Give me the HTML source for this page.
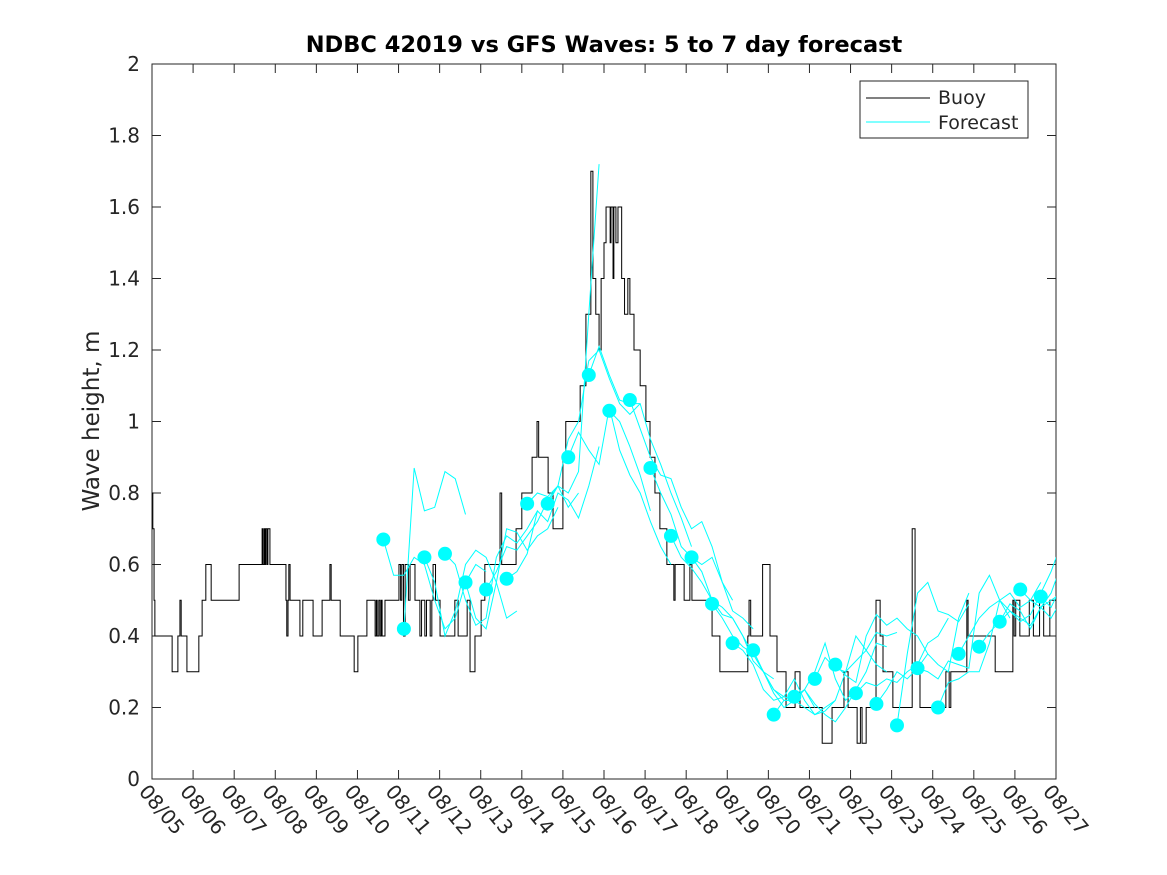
<!DOCTYPE html>
<html><head><meta charset="utf-8"><style>
body{margin:0;background:#fff}
svg{display:block;font-family:"DejaVu Sans","Liberation Sans",sans-serif}
</style></head><body>
<svg id="chart" width="1167" height="875" viewBox="0 0 1167 875">
<rect width="1167" height="875" fill="#fff"/>
<defs><clipPath id="pc"><rect x="152" y="64" width="904" height="715"/></clipPath></defs>
<rect x="152" y="64" width="904" height="715" fill="#fff" stroke="#262626" stroke-width="1"/>
<text x="604" y="52" text-anchor="middle" font-size="22.5" font-weight="bold" fill="#000">NDBC 42019 vs GFS Waves: 5 to 7 day forecast</text>
<text transform="translate(99,421) rotate(-90)" text-anchor="middle" font-size="23" fill="#262626">Wave height, m</text>
<g id="axes"></g>
<g id="series" clip-path="url(#pc)"></g>
<g>
<rect x="860" y="81" width="168" height="57" fill="#fff" stroke="#262626"/>
<line x1="866" y1="98" x2="930" y2="98" stroke="#000"/>
<text x="938" y="104" font-size="19" fill="#262626">Buoy</text>
<line x1="866" y1="122" x2="930" y2="122" stroke="#00ffff"/>
<text x="938" y="129" font-size="19" fill="#262626">Forecast</text>
</g>
</svg>
<script>
const dateLabels=["08/05","08/06","08/07","08/08","08/09","08/10","08/11","08/12","08/13","08/14","08/15","08/16","08/17","08/18","08/19","08/20","08/21","08/22","08/23","08/24","08/25","08/26","08/27"];
const yTicks=[0,0.2,0.4,0.6,0.8,1,1.2,1.4,1.6,1.8,2];
const yTickLabels=["0","0.2","0.4","0.6","0.8","1","1.2","1.4","1.6","1.8","2"];
// buoy step series: [day offset from 08/05, height]
const buoySteps=[[0,0.8],[0.02,0.7],[0.05,0.5],[0.07,0.4],[0.49,0.3],[0.63,0.4],[0.68,0.5],[0.71,0.4],[0.85,0.3],[1.14,0.4],[1.22,0.5],[1.31,0.6],[1.44,0.5],[2.12,0.6],[2.68,0.7],[2.70,0.6],[2.73,0.7],[2.75,0.6],[2.77,0.7],[2.80,0.6],[2.82,0.7],[2.87,0.6],[3.26,0.5],[3.28,0.4],[3.31,0.5],[3.33,0.6],[3.36,0.5],[3.60,0.4],[3.67,0.5],[3.92,0.4],[4.14,0.5],[4.33,0.6],[4.36,0.5],[4.58,0.4],[4.92,0.3],[5.01,0.4],[5.23,0.5],[5.43,0.4],[5.46,0.5],[5.48,0.4],[5.52,0.5],[5.55,0.4],[5.58,0.5],[5.60,0.4],[5.67,0.5],[6.01,0.6],[6.05,0.5],[6.08,0.6],[6.12,0.4],[6.16,0.6],[6.24,0.5],[6.28,0.6],[6.40,0.5],[6.52,0.4],[6.56,0.5],[6.64,0.4],[6.68,0.5],[6.77,0.4],[6.81,0.5],[6.84,0.6],[6.90,0.5],[7.01,0.4],[7.37,0.5],[7.45,0.4],[7.67,0.5],[7.74,0.3],[7.86,0.4],[8.01,0.5],[8.10,0.6],[8.47,0.8],[8.51,0.6],[8.86,0.7],[9.0,0.8],[9.25,0.9],[9.37,1.0],[9.41,0.9],[9.64,0.8],[9.76,0.7],[10.0,0.9],[10.07,1.0],[10.42,1.1],[10.56,1.3],[10.68,1.7],[10.73,1.4],[10.8,1.3],[10.88,1.2],[10.93,1.4],[11.0,1.5],[11.05,1.6],[11.15,1.5],[11.17,1.6],[11.22,1.4],[11.24,1.6],[11.29,1.5],[11.34,1.6],[11.43,1.4],[11.5,1.3],[11.58,1.4],[11.63,1.3],[11.73,1.2],[11.88,1.1],[12.02,1.0],[12.12,0.9],[12.24,0.8],[12.36,0.7],[12.53,0.6],[12.7,0.5],[12.73,0.6],[12.95,0.5],[13.09,0.6],[13.14,0.5],[13.63,0.4],[13.82,0.3],[14.5,0.4],[14.53,0.5],[14.57,0.4],[14.86,0.6],[15.04,0.4],[15.21,0.3],[15.43,0.2],[15.65,0.3],[15.77,0.2],[16.31,0.1],[16.55,0.2],[16.84,0.3],[16.94,0.2],[17.16,0.1],[17.24,0.2],[17.28,0.1],[17.38,0.2],[17.62,0.5],[17.72,0.4],[17.79,0.3],[18.03,0.2],[18.5,0.7],[18.57,0.3],[18.69,0.2],[19.32,0.3],[19.4,0.2],[19.44,0.3],[19.83,0.5],[19.86,0.4],[20.52,0.3],[20.95,0.5],[20.98,0.4],[21.02,0.5],[21.12,0.4],[21.35,0.5],[21.45,0.4],[21.6,0.5],[21.7,0.4],[21.85,0.5]];
// forecast runs: start day (dot) and values every 0.25 day
const fcStarts=[5.63,6.13,6.63,7.13,7.63,8.13,8.63,9.13,9.63,10.13,10.63,11.13,11.63,12.13,12.63,13.13,13.63,14.13,14.63,15.13,15.63,16.13,16.63,17.13,17.63,18.13,18.63,19.13,19.63,20.13,20.63,21.13,21.63];
const fc0=[0.67,0.57,0.57,0.62,0.60,0.50,0.42,0.45,0.55,0.60,0.58];
const fc1=[0.42,0.87,0.75,0.76,0.86,0.84,0.74];
const fc2=[0.62,0.55,0.40,0.47,0.60,0.64,0.62,0.55,0.45,0.47];
const fc3=[0.63,0.60,0.50,0.43,0.45,0.62,0.68,0.66,0.70,0.75];
const fc4=[0.55,0.45,0.42,0.55,0.70,0.69,0.64,0.68,0.70,0.76];
const fc5=[0.53,0.58,0.65,0.64,0.68,0.72,0.78,0.82,0.76,0.80];
const fc6=[0.56,0.58,0.63,0.75,0.72,0.80,0.78,0.73,0.82,0.93];
const fc7=[0.77,0.80,0.79,0.82,0.80,0.86,1.30,1.72];
const fc8=[0.77,0.82,0.95,1.00,1.17,1.20,1.12,1.05,1.02,1.05];
const fc9=[0.90,0.97,0.92,0.88,1.04,0.92,0.85,0.80,0.72,0.65,0.60];
const fc10=[1.13,1.21,1.13,1.06,1.05,1.05,0.95,0.88,0.80,0.73,0.65];
const fc11=[1.03,1.00,0.93,0.85,0.75];
const fc12=[1.06,0.98,0.90,0.85,0.84,0.76,0.70,0.72,0.65,0.55,0.50];
const fc13=[0.87,0.80,0.74,0.65,0.62,0.60,0.62,0.55,0.47,0.45,0.42];
const fc14=[0.68,0.62,0.59,0.55,0.50,0.48,0.45,0.40,0.33,0.30,0.28];
const fc15=[0.62,0.58,0.50,0.46,0.45,0.40,0.35,0.30,0.25,0.22,0.22];
const fc16=[0.49,0.45,0.40,0.37,0.35,0.30,0.25,0.23,0.22,0.25,0.20];
const fc17=[0.38,0.36,0.32,0.25,0.22,0.23,0.28,0.22,0.18,0.19,0.22];
const fc18=[0.36,0.30,0.24,0.20,0.22,0.25,0.21,0.18,0.16,0.20,0.25];
const fc19=[0.18,0.22,0.22,0.20,0.18,0.20,0.22,0.30,0.40,0.36,0.32,0.30];
const fc20=[0.23,0.25,0.30,0.38,0.28,0.22,0.25,0.30,0.38,0.37];
const fc21=[0.28,0.34,0.31,0.30,0.33,0.36,0.41,0.40,0.41];
const fc22=[0.32,0.29,0.27,0.40,0.46,0.43,0.45,0.42,0.40,0.35];
const fc23=[0.24,0.27,0.26,0.28,0.27,0.30,0.32,0.38,0.40,0.45];
const fc24=[0.21,0.25,0.30,0.28,0.31,0.35,0.32,0.30,0.45,0.52];
const fc25=[0.15,0.35,0.52,0.55,0.47,0.46,0.44,0.49];
const fc26=[0.31,0.30,0.28,0.33,0.32,0.31,0.52,0.57,0.50,0.45];
const fc27=[0.20,0.27,0.28,0.30,0.30,0.38,0.50,0.52,0.48,0.50,0.55];
const fc28=[0.35,0.40,0.45,0.48,0.50,0.47,0.44,0.46,0.52,0.58,0.66,0.65];
const fc29=[0.37,0.41,0.44,0.49,0.47,0.42,0.48,0.50,0.52];
const fc30=[0.44,0.47,0.45,0.43,0.48,0.52,0.60,0.70,0.64,0.55];
const fc31=[0.53,0.50,0.48,0.45,0.50,0.48];
const fc32=[0.51,0.48,0.54,0.56];
const fcValues=[fc0,fc1,fc2,fc3,fc4,fc5,fc6,fc7,fc8,fc9,fc10,fc11,fc12,fc13,fc14,fc15,fc16,fc17,fc18,fc19,fc20,fc21,fc22,fc23,fc24,fc25,fc26,fc27,fc28,fc29,fc30,fc31,fc32];

const X0=152,X1=1056,Y0=779,Y1=64;
const xs=d=>X0+d*(X1-X0)/22;
const ys=v=>Y0-v*(Y0-Y1)/2;
const NS="http://www.w3.org/2000/svg";
const axes=document.getElementById('axes'),ser=document.getElementById('series');
function mk(tag,attrs,parent){const e=document.createElementNS(NS,tag);for(const k in attrs)e.setAttribute(k,attrs[k]);parent.appendChild(e);return e;}
dateLabels.forEach((lab,i)=>{
  const x=xs(i);
  const t1=mk('line',{x1:x,y1:Y0,x2:x,y2:Y0-9,stroke:'#262626'},axes);
  
  
  const t2=mk('line',{x1:x,y1:Y1,x2:x,y2:Y1+9,stroke:'#262626'},axes);
  
  
  const tx=mk('text',{transform:`translate(${x-14},${Y0+13}) rotate(50)`,'font-size':20,fill:'#262626'},axes);
  tx.textContent=lab;
  
  
});
yTicks.forEach((v,i)=>{
  const y=ys(v);
  const t1=mk('line',{x1:X0,y1:y,x2:X0+9,y2:y,stroke:'#262626'},axes);
  
  
  const t2=mk('line',{x1:X1,y1:y,x2:X1-9,y2:y,stroke:'#262626'},axes);
  
  
  const tx=mk('text',{x:X0-12,y:y+7,'text-anchor':'end','font-size':20,fill:'#262626'},axes);
  tx.textContent=yTickLabels[i];
  
  
});
// buoy line
let d='';
buoySteps.forEach((p,i)=>{
  const x=xs(p[0]),y=ys(p[1]);
  if(i===0)d+=`M${x},${y}`;else d+=`L${x},${ys(buoySteps[i-1][1])}L${x},${y}`;
});
d+=`L${X1},${ys(buoySteps[buoySteps.length-1][1])}`;
const bl=mk('path',{d:d,fill:'none',stroke:'#000','stroke-width':1},ser);


// forecasts
fcValues.forEach((vals,k)=>{
  const s=fcStarts[k];
  const pts=vals.map((v,j)=>`${xs(s+0.25*j)},${ys(v)}`).join(' ');
  const pl=mk('polyline',{points:pts,fill:'none',stroke:'#00ffff','stroke-width':1},ser);
  
  
});
fcValues.forEach((vals,k)=>{
  const c=mk('circle',{cx:xs(fcStarts[k]),cy:ys(vals[0]),r:7,fill:'#00ffff'},ser);
  
  
});
</script>
</body></html>
